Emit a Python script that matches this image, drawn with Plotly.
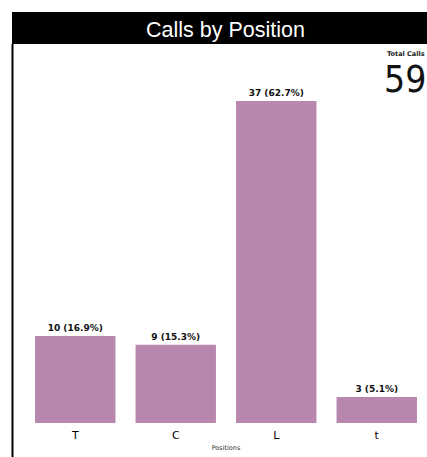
import plotly.graph_objects as go

categories = ["T", "C", "L", "t"]
calls = [10, 9, 37, 3]
total_calls = sum(calls)
labels = [f"{v} ({v / total_calls * 100:.1f}%)" for v in calls]

W, H = 427, 457
# screen-pixel layout of the plot area
sx0, sx1, sy0, sy1 = 25, 427, 50, 423
ml, mt = sx0, sy0
mr = W - sx1
mb = H - sy1
pw, ph = sx1 - sx0, sy1 - sy0

def px(x):
    return (x - sx0) / pw

def py(y):
    return (sy1 - y) / ph

fig = go.Figure(go.Bar(
    x=categories, y=calls, text=labels, textposition="outside",
    marker=dict(color="#b887ad", line=dict(width=0)),
    textfont=dict(family="DejaVu Sans", size=9, color="#111111", weight="bold"),
    cliponaxis=False, width=0.8, hoverinfo="skip",
))

fig.update_layout(
    width=W, height=H, margin=dict(l=ml, r=mr, t=mt, b=mb, autoexpand=False),
    paper_bgcolor="white", plot_bgcolor="white", showlegend=False,
    xaxis=dict(showgrid=False, zeroline=False, showline=False, ticks="",
               ticklabelstandoff=4,
               tickfont=dict(family="DejaVu Sans", size=11, color="#000"),
               title=dict(text="Positions", font=dict(family="DejaVu Sans", size=6.5, color="#333"), standoff=4)),
    yaxis=dict(visible=False, range=[0, max(calls) * ph / (sy1 - 101)]),
    shapes=[
        dict(type="rect", xref="paper", yref="paper", x0=px(12), x1=px(440), y0=py(44), y1=py(12),
             fillcolor="black", line=dict(width=0), layer="below"),
        dict(type="line", xref="paper", yref="paper", x0=px(12.5), x1=px(12.5), y0=py(44), y1=py(470),
             line=dict(color="black", width=2)),
    ],
    annotations=[
        dict(text="Calls by Position", xref="paper", yref="paper", x=px(225), y=py(29.5),
             xanchor="center", yanchor="middle",
             showarrow=False, font=dict(family="Liberation Sans", size=21.5, color="white")),
        dict(text="Total Calls", xref="paper", yref="paper", x=px(406), y=py(53.5),
             xanchor="center", yanchor="middle",
             showarrow=False, font=dict(family="DejaVu Sans", size=6.5, color="#222", weight="bold")),
        dict(text=str(total_calls), xref="paper", yref="paper", x=px(405), y=py(79),
             xanchor="center", yanchor="middle",
             showarrow=False, font=dict(family="Liberation Sans Narrow, DejaVu Sans Condensed", size=37, color="#111")),
    ],
)

fig.write_html(
    "out.html",
    config={"displayModeBar": False},
    post_script="document.body.style.margin='0';document.body.style.overflow='hidden';",
)
